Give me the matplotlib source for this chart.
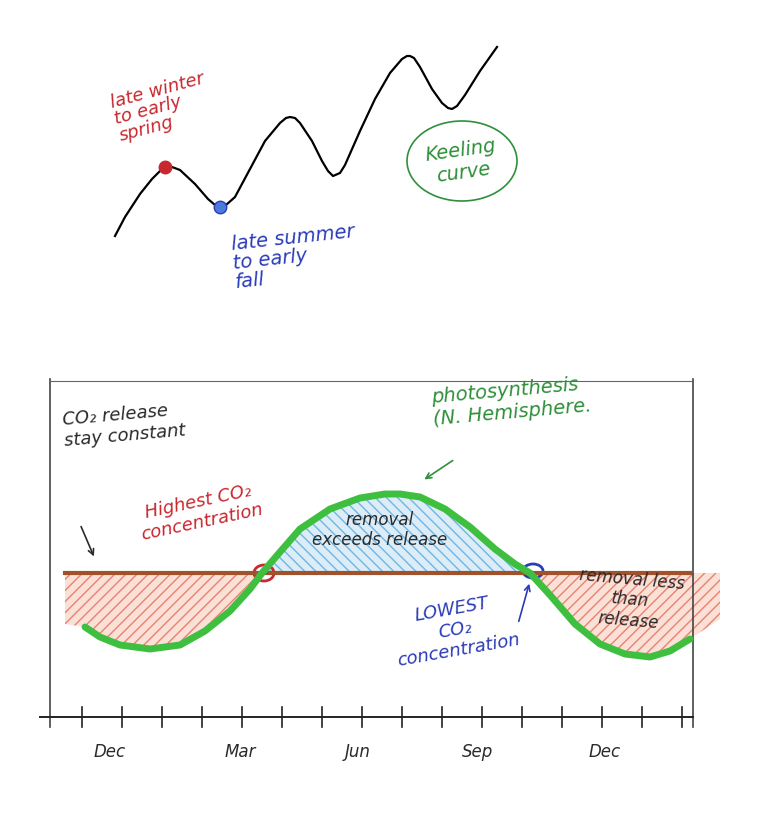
import matplotlib
matplotlib.use("Agg")
import matplotlib.pyplot as plt
from matplotlib.patches import Ellipse, Polygon

# Keeling curve sketch (pixel-like coordinates)
keel_x = [115, 125, 140, 152, 160, 165, 172, 180, 195, 208, 215, 220, 226, 235, 250, 265, 280, 286, 290, 295, 300, 312, 322, 328, 333, 340, 345, 360, 375, 390, 402, 407, 410, 414, 420, 432, 442, 448, 452, 457, 465, 480, 497]
keel_y = [237, 218, 195, 180, 172, 169, 168, 171, 185, 200, 206, 208, 206, 198, 170, 142, 124, 119, 118, 119, 124, 142, 162, 172, 177, 174, 166, 132, 100, 74, 60, 57, 57, 59, 68, 90, 104, 109, 110, 107, 96, 72, 48]

# Seasonal cycle sketch
sea_x = [85, 100, 120, 150, 180, 205, 230, 250, 262, 280, 300, 330, 360, 385, 400, 420, 445, 470, 495, 515, 530, 550, 575, 600, 625, 650, 670, 690]
sea_y = [628, 638, 646, 650, 646, 632, 612, 590, 574, 553, 530, 510, 499, 495, 495, 498, 510, 528, 550, 565, 574, 596, 625, 645, 655, 658, 652, 640]
base_y = 574
tick_x = [82, 122, 162, 202, 242, 282, 322, 362, 402, 442, 482, 522, 562, 602, 642, 682]
month_labels = ["Dec", "Mar", "Jun", "Sep", "Dec"]
month_x = [110, 240, 358, 478, 605]

plt.rcParams['hatch.linewidth'] = 1.0
fig = plt.figure(figsize=(7.66, 8.29), dpi=100)
ax = fig.add_axes([0, 0, 1, 1])
ax.set_xlim(0, 766); ax.set_ylim(829, 0); ax.axis("off")

RED = "#c8282e"; BLUE = "#2b3cb8"; GREEN = "#2f8f3a"; DARK = "#2a2a2a"; BROWN = "#a0522d"
hand = dict(family="DejaVu Sans", style="italic")

ax.plot(keel_x, keel_y, color="black", lw=1.6)
ax.plot(165, 168, "o", color=RED, ms=9)
ax.plot(220, 208, "o", color="#4a7bd8", ms=9, mec=BLUE)
ax.text(108, 145, "late winter\nto early\nspring", color=RED, fontsize=13, rotation=15, ha="left", va="bottom", linespacing=0.95, **hand)
ax.text(230, 222, "late summer\nto early\nfall", color=BLUE, fontsize=14, rotation=6, ha="left", va="top", linespacing=1.0, **hand)
ax.add_patch(Ellipse((462, 162), 110, 80, fill=False, ec=GREEN, lw=1.2))
ax.text(462, 162, "Keeling\ncurve", color=GREEN, fontsize=14, ha="center", va="center", rotation=8, **hand)

# frame
ax.plot([50, 50], [380, 728], color="#444", lw=1.2)
ax.plot([693, 693], [380, 728], color="#444", lw=1.2)
ax.plot([50, 693], [382, 382], color="#666", lw=0.8)
ax.plot([40, 693], [718, 718], color="#222", lw=1.4)
for tx in tick_x:
    ax.plot([tx, tx], [708, 728], color="#222", lw=1.2)
for lx, lab in zip(month_x, month_labels):
    ax.text(lx, 752, lab, fontsize=12, ha="center", va="center", color=DARK, **hand)

# hatching fills
left = [(x, y) for x, y in zip(sea_x, sea_y) if x <= 262]
ax.add_patch(Polygon([(65, base_y), (65, 625)] + left + [(262, base_y)], closed=True, fc="#fbe0d8", ec="#e8836e", lw=0, hatch="///"))
mid = [(x, y) for x, y in zip(sea_x, sea_y) if 262 <= x <= 530]
ax.add_patch(Polygon(mid, closed=True, fc="#dcedf8", ec="#6fb6e6", lw=0, hatch="\\\\\\"))
right = [(x, y) for x, y in zip(sea_x, sea_y) if x >= 530]
ax.add_patch(Polygon(right + [(720, 620), (720, base_y)], closed=True, fc="#fbe0d8", ec="#e8836e", lw=0, hatch="///"))

ax.plot([65, 690], [base_y, base_y], color=BROWN, lw=3)
ax.plot(sea_x, sea_y, color="#3fbf3f", lw=5, solid_capstyle="round")
ax.add_patch(Ellipse((264, 574), 20, 16, fill=False, ec=RED, lw=2))
ax.add_patch(Ellipse((533, 572), 20, 14, fill=False, ec=BLUE, lw=2))

ax.text(62, 425, "CO\u2082 release\nstay constant", color=DARK, fontsize=13, ha="left", va="center", rotation=5, **hand)
ax.annotate("", xy=(95, 560), xytext=(80, 525), arrowprops=dict(arrowstyle="->", color=DARK, lw=1.2))
ax.text(200, 512, "Highest CO\u2082\nconcentration", color=RED, fontsize=13, ha="center", va="center", rotation=12, **hand)
ax.text(430, 402, "photosynthesis\n(N. Hemisphere.", color=GREEN, fontsize=14, ha="left", va="center", rotation=5, **hand)
ax.annotate("", xy=(422, 482), xytext=(455, 460), arrowprops=dict(arrowstyle="->", color=GREEN, lw=1.2))
ax.text(380, 530, "removal\nexceeds release", color=DARK, fontsize=12, ha="center", va="center", **hand)
ax.text(455, 630, "LOWEST\nCO\u2082\nconcentration", color=BLUE, fontsize=13, ha="center", va="center", rotation=10, **hand)
ax.annotate("", xy=(530, 582), xytext=(518, 625), arrowprops=dict(arrowstyle="->", color=BLUE, lw=1.2))
ax.text(630, 600, "removal less\nthan\nrelease", color=DARK, fontsize=12, ha="center", va="center", rotation=-5, **hand)

fig.savefig("out.png", dpi=100)
